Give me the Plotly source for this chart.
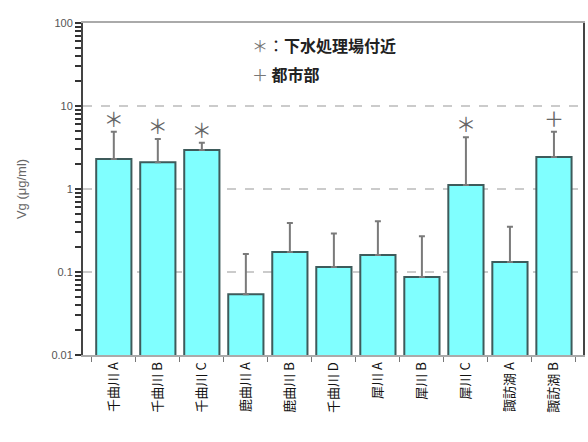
import plotly.graph_objects as go

# Sampling sites and measured values (log scale)
sites = ["千曲川 A", "千曲川 B", "千曲川 C", "鹿曲川 A", "鹿曲川 B", "千曲川 D",
         "犀川 A", "犀川 B", "犀川 C", "諏訪湖 A", "諏訪湖 B"]
vg_mean = [2.3, 2.1, 2.95, 0.054, 0.174, 0.115, 0.16, 0.087, 1.12, 0.132, 2.43]
vg_upper = [4.9, 4.0, 3.6, 0.165, 0.39, 0.29, 0.41, 0.27, 4.2, 0.35, 4.9]
site_marks = ["＊", "＊", "＊", "", "", "", "", "", "＊", "", "＋"]

major_ticks = [0.01, 0.1, 1, 10, 100]
major_labels = ["0.01", "0.1", "1", "10", "100"]
grid_levels = [0.1, 1, 10]

# Major + minor tick positions; minor ones carry no label
tick_vals, tick_text = [], []
for e in range(-2, 2):
    base = 10.0 ** e
    tick_vals.append(base)
    tick_text.append(major_labels[e + 2])
    for m in range(2, 10):
        tick_vals.append(m * base)
        tick_text.append("")
tick_vals.append(major_ticks[-1])
tick_text.append(major_labels[-1])

err_plus = [u - m for u, m in zip(vg_upper, vg_mean)]
err_minus = [0] * len(vg_mean)

fig = go.Figure()

fig.add_trace(go.Bar(
    x=sites, y=vg_mean, width=0.8,
    marker=dict(color="#80FFFF", line=dict(color="#3E5B5B", width=2)),
    error_y=dict(type="data", symmetric=False, array=err_plus,
                 arrayminus=err_minus, color="#7A7A7A", thickness=2, width=3),
    showlegend=False,
))

fig.add_trace(go.Scatter(
    x=sites, y=vg_upper, mode="text", text=site_marks,
    textposition="top center",
    textfont=dict(size=20, color="#666666", family="Noto Sans CJK JP"),
    showlegend=False, cliponaxis=False,
))

# dashed reference lines at the inner decades
for g in grid_levels:
    fig.add_shape(type="line", xref="paper", yref="y", x0=0, x1=1,
                  y0=g, y1=g, layer="below",
                  line=dict(color="#BBBBBB", width=1.5, dash="dash"))

fig.add_annotation(x=0.333, y=0.935, xref="paper", yref="paper",
                   xanchor="left", yanchor="middle", showarrow=False,
                   text="<span style='color:#777'>＊</span>：<b>下水処理場付近</b>",
                   font=dict(size=16, color="#222", family="Noto Sans CJK JP"))
fig.add_annotation(x=0.333, y=0.845, xref="paper", yref="paper",
                   xanchor="left", yanchor="middle", showarrow=False,
                   text="<span style='color:#777'>＋</span> <b>都市部</b>",
                   font=dict(size=16, color="#222", family="Noto Sans CJK JP"))

fig.update_layout(
    width=588, height=442,
    margin=dict(l=83, r=3, t=23, b=87),
    plot_bgcolor="white", paper_bgcolor="white",
    bargap=0.2,
    font=dict(family="Noto Sans CJK JP", color="#333"),
    xaxis=dict(
        range=[-0.7, 10.66],
        tickangle=-90,
        tickfont=dict(size=13, color="#111", family="Noto Sans CJK JP"),
        ticks="outside", ticklen=5, tickcolor="#777", tickson="boundaries",
        showline=True, linecolor="#AAAAAA", linewidth=2, mirror=True,
        showgrid=False,
    ),
    yaxis=dict(
        type="log", range=[-2, 2],
        tickmode="array", tickvals=tick_vals, ticktext=tick_text,
        tickfont=dict(size=11, color="#555", family="Arial"),
        ticks="outside", ticklen=6, tickcolor="#333", tickwidth=2,
        showline=True, linecolor="#444444", linewidth=2, mirror=True,
        showgrid=False, zeroline=False,
        title=dict(text="Vg (μg/ml)",
                   font=dict(size=13, color="#666", family="Arial"),
                   standoff=22),
    ),
)

fig.write_html("out.html")
